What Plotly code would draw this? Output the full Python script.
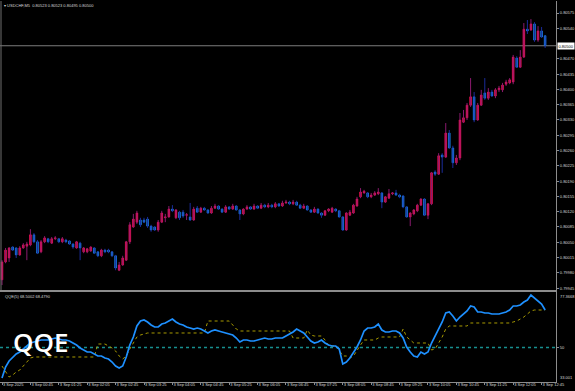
import plotly.graph_objects as go
import pandas as pd

# ---------------- data (USDCHF M5, 3 Sep 2025) ----------------
open_ = [0.79964,0.80005,0.80014,0.80039,0.80037,0.80021,0.80037,0.80041,0.80044,0.80067,
         0.80051,0.80028,0.80051,0.80058,0.80048,0.80058,0.80058,0.80051,0.80055,0.80053,
         0.80046,0.80037,0.80048,0.80028,0.80028,0.80030,0.80037,0.80028,0.80019,0.80032,
         0.80032,0.80028,0.80019,0.79986,0.79998,0.80009,0.80051,0.80085,0.80096,0.80101,
         0.80101,0.80103,0.80087,0.80085,0.80078,0.80096,0.80106,0.80108,0.80126,0.80106,
         0.80119,0.80119,0.80112,0.80108,0.80101,0.80128,0.80119,0.80128,0.80124,0.80117,
         0.80128,0.80133,0.80126,0.80119,0.80131,0.80126,0.80133,0.80124,0.80115,0.80126,
         0.80131,0.80126,0.80133,0.80128,0.80135,0.80131,0.80135,0.80131,0.80138,0.80133,
         0.80140,0.80142,0.80138,0.80142,0.80135,0.80128,0.80133,0.80124,0.80119,0.80126,
         0.80117,0.80112,0.80122,0.80119,0.80126,0.80122,0.80108,0.80078,0.80112,0.80117,
         0.80133,0.80154,0.80163,0.80163,0.80154,0.80158,0.80161,0.80163,0.80142,0.80151,
         0.80161,0.80163,0.80158,0.80156,0.80131,0.80108,0.80115,0.80122,0.80135,0.80149,
         0.80112,0.80138,0.80211,0.80206,0.80250,0.80245,0.80300,0.80266,0.80232,0.80243,
         0.80325,0.80335,0.80364,0.80383,0.80330,0.80364,0.80392,0.80380,0.80394,0.80385,
         0.80399,0.80399,0.80412,0.80415,0.80417,0.80472,0.80451,0.80474,0.80538,0.80536,
         0.80550,0.80513,0.80534,0.80523]
high = [0.80009,0.80037,0.80039,0.80041,0.80039,0.80041,0.80048,0.80051,0.80080,0.80071,
        0.80055,0.80055,0.80064,0.80060,0.80062,0.80064,0.80060,0.80062,0.80058,0.80055,
        0.80048,0.80053,0.80051,0.80039,0.80037,0.80041,0.80039,0.80030,0.80035,0.80035,
        0.80035,0.80030,0.80021,0.80005,0.80019,0.80053,0.80096,0.80115,0.80122,0.80106,
        0.80106,0.80108,0.80090,0.80087,0.80101,0.80122,0.80115,0.80133,0.80135,0.80126,
        0.80122,0.80124,0.80117,0.80140,0.80131,0.80133,0.80131,0.80131,0.80126,0.80133,
        0.80138,0.80135,0.80128,0.80135,0.80133,0.80138,0.80135,0.80126,0.80128,0.80135,
        0.80133,0.80138,0.80135,0.80140,0.80138,0.80140,0.80138,0.80142,0.80140,0.80145,
        0.80147,0.80145,0.80147,0.80145,0.80138,0.80138,0.80135,0.80126,0.80131,0.80128,
        0.80119,0.80124,0.80128,0.80131,0.80128,0.80124,0.80110,0.80119,0.80124,0.80138,
        0.80154,0.80174,0.80170,0.80165,0.80163,0.80167,0.80174,0.80165,0.80156,0.80172,
        0.80165,0.80170,0.80161,0.80158,0.80133,0.80119,0.80126,0.80138,0.80151,0.80151,
        0.80140,0.80211,0.80215,0.80254,0.80254,0.80323,0.80307,0.80271,0.80250,0.80346,
        0.80353,0.80369,0.80426,0.80394,0.80369,0.80399,0.80426,0.80403,0.80399,0.80403,
        0.80408,0.80415,0.80422,0.80426,0.80479,0.80476,0.80490,0.80552,0.80559,0.80561,
        0.80554,0.80545,0.80543,0.80523]
low = [0.79952,0.80002,0.80005,0.80030,0.80014,0.80019,0.80035,0.80009,0.80041,0.80048,
       0.80023,0.80025,0.80048,0.80048,0.80046,0.80055,0.80048,0.80048,0.80048,0.80044,
       0.80035,0.80035,0.80009,0.80025,0.80025,0.80028,0.80023,0.80016,0.80016,0.80025,
       0.80025,0.80016,0.79986,0.79984,0.79996,0.80007,0.80046,0.80083,0.80092,0.80085,
       0.80094,0.80083,0.80074,0.80076,0.80074,0.80094,0.80096,0.80106,0.80119,0.80103,
       0.80101,0.80106,0.80101,0.80099,0.80099,0.80117,0.80117,0.80122,0.80115,0.80115,
       0.80126,0.80124,0.80117,0.80117,0.80124,0.80124,0.80122,0.80101,0.80112,0.80124,
       0.80124,0.80124,0.80126,0.80126,0.80128,0.80128,0.80128,0.80128,0.80131,0.80131,
       0.80138,0.80135,0.80135,0.80133,0.80126,0.80126,0.80122,0.80117,0.80117,0.80115,
       0.80106,0.80110,0.80119,0.80117,0.80119,0.80106,0.80076,0.80076,0.80110,0.80115,
       0.80131,0.80151,0.80161,0.80151,0.80151,0.80156,0.80158,0.80128,0.80140,0.80149,
       0.80158,0.80156,0.80151,0.80128,0.80106,0.80087,0.80112,0.80119,0.80133,0.80110,
       0.80103,0.80135,0.80202,0.80204,0.80209,0.80243,0.80264,0.80220,0.80227,0.80238,
       0.80323,0.80330,0.80360,0.80325,0.80328,0.80362,0.80376,0.80376,0.80383,0.80380,
       0.80394,0.80394,0.80408,0.80412,0.80412,0.80449,0.80449,0.80472,0.80527,0.80534,
       0.80509,0.80509,0.80518,0.80495]
close = [0.80005,0.80032,0.80037,0.80032,0.80021,0.80037,0.80044,0.80046,0.80067,0.80051,
         0.80025,0.80051,0.80060,0.80051,0.80058,0.80060,0.80051,0.80058,0.80051,0.80046,
         0.80039,0.80051,0.80037,0.80037,0.80035,0.80039,0.80025,0.80019,0.80032,0.80028,
         0.80028,0.80019,0.79991,0.79998,0.80014,0.80051,0.80090,0.80103,0.80117,0.80090,
         0.80096,0.80087,0.80078,0.80078,0.80096,0.80117,0.80108,0.80126,0.80122,0.80124,
         0.80106,0.80110,0.80113,0.80101,0.80126,0.80119,0.80128,0.80124,0.80117,0.80128,
         0.80133,0.80126,0.80119,0.80131,0.80126,0.80133,0.80124,0.80115,0.80126,0.80131,
         0.80126,0.80133,0.80128,0.80135,0.80131,0.80135,0.80131,0.80138,0.80133,0.80140,
         0.80142,0.80138,0.80142,0.80135,0.80128,0.80133,0.80124,0.80119,0.80126,0.80117,
         0.80112,0.80122,0.80126,0.80128,0.80122,0.80108,0.80078,0.80117,0.80119,0.80135,
         0.80149,0.80165,0.80167,0.80154,0.80158,0.80163,0.80165,0.80142,0.80154,0.80161,
         0.80163,0.80158,0.80154,0.80131,0.80108,0.80117,0.80124,0.80135,0.80149,0.80112,
         0.80138,0.80209,0.80206,0.80248,0.80245,0.80300,0.80266,0.80232,0.80243,0.80330,
         0.80335,0.80364,0.80383,0.80330,0.80364,0.80387,0.80380,0.80394,0.80385,0.80399,
         0.80403,0.80410,0.80417,0.80422,0.80474,0.80451,0.80474,0.80538,0.80534,0.80550,
         0.80513,0.80534,0.80520,0.80500]

# QQE(5): smoothed RSI (blue) and trailing level (yellow dotted)
qqe_rsi = [35.00,40.39,43.35,45.33,46.80,47.79,49.27,50.75,52.23,52.72,
           53.21,53.71,53.71,53.71,54.20,54.69,54.20,53.71,53.71,53.21,
           52.23,51.24,49.76,48.78,47.79,47.79,46.80,45.82,45.82,44.83,
           44.34,42.86,40.89,39.90,40.89,45.33,51.24,55.19,60.61,63.07,
           63.57,62.58,61.10,60.11,60.11,61.59,62.09,63.07,64.06,62.58,
           61.59,61.10,60.11,59.62,59.13,59.62,59.13,58.14,57.16,58.14,
           58.64,58.14,57.65,57.16,56.66,56.17,54.69,52.72,53.71,53.71,
           53.21,53.21,53.71,54.20,54.69,54.20,54.20,54.69,54.69,54.69,
           55.68,56.66,57.65,59.13,58.14,57.16,55.19,53.21,52.23,52.72,
           53.71,52.23,51.24,50.75,50.75,49.27,41.87,42.86,44.83,47.30,
           50.26,53.71,58.14,59.62,59.62,60.11,61.59,58.64,57.65,57.65,
           58.14,58.14,57.16,54.69,50.26,47.79,45.82,45.33,47.79,46.80,
           47.79,52.23,55.68,59.13,62.58,67.02,67.51,65.54,63.07,65.04,
           66.52,68.00,70.47,69.97,67.51,67.51,67.02,67.02,66.52,66.52,
           66.52,67.02,67.51,68.50,70.47,70.47,70.96,72.44,73.43,75.90,
           74.41,72.93,71.45,68.5002]
qqe_trail = [40.89,37.93,35.47,36.45,37.93,38.91,40.89,42.86,44.83,45.33,
             45.33,45.33,45.33,45.33,45.33,45.33,45.33,45.33,45.33,45.33,
             45.33,45.33,45.33,45.33,45.33,45.33,45.33,51.73,51.73,51.73,
             50.75,49.76,48.28,45.82,44.34,45.82,49.27,52.23,55.19,56.17,
             56.66,57.16,57.16,57.16,57.16,57.16,57.16,57.16,57.16,57.16,
             57.16,57.16,57.16,57.16,57.16,57.16,57.16,57.16,63.07,63.07,
             63.07,63.07,63.07,63.07,63.07,61.10,59.13,58.14,58.14,58.14,
             58.14,58.14,58.14,58.14,58.14,58.14,58.14,58.14,58.14,58.14,
             58.14,58.14,54.69,54.69,54.69,54.69,58.64,56.17,55.68,55.68,
             55.68,53.71,50.75,50.75,50.75,48.78,45.82,45.82,44.83,45.82,
             48.78,51.24,53.71,53.71,53.71,53.71,54.69,55.19,55.19,55.19,
             55.19,55.19,55.19,59.13,55.19,53.71,52.23,52.23,52.23,52.23,
             52.23,48.78,49.27,52.23,55.19,59.13,60.61,60.61,60.61,60.61,
             60.61,60.61,62.09,62.09,62.09,62.09,62.09,62.09,62.09,62.09,
             62.09,62.09,62.09,62.09,62.58,63.07,64.06,65.04,66.52,68.00,
             68.50,68.50,68.50,68.4790]
qqe_level = 50
qqe_min, qqe_max = 33.001, 77.3668

times = pd.date_range("2025-09-03 00:05", periods=len(close), freq="5min")

tick_times = ["2025-09-03 00:05", "2025-09-03 00:45", "2025-09-03 01:25", "2025-09-03 02:05",
              "2025-09-03 02:45", "2025-09-03 03:25", "2025-09-03 04:05", "2025-09-03 04:45",
              "2025-09-03 05:25", "2025-09-03 06:05", "2025-09-03 06:45", "2025-09-03 07:25",
              "2025-09-03 08:05", "2025-09-03 08:45", "2025-09-03 09:25", "2025-09-03 10:05",
              "2025-09-03 10:45", "2025-09-03 11:25", "2025-09-03 12:05", "2025-09-03 12:45"]
time_labels = ["3 Sep 2025", "3 Sep 00:45", "3 Sep 01:25", "3 Sep 02:05", "3 Sep 02:45",
               "3 Sep 03:25", "3 Sep 04:05", "3 Sep 04:45", "3 Sep 05:25", "3 Sep 06:05",
               "3 Sep 06:45", "3 Sep 07:25", "3 Sep 08:05", "3 Sep 08:45", "3 Sep 09:25",
               "3 Sep 10:05", "3 Sep 10:45", "3 Sep 11:25", "3 Sep 12:05", "3 Sep 12:45"]
# (0.80505 sits under the current-price box)
price_ticks = [0.79945, 0.79980, 0.80015, 0.80050, 0.80085, 0.80120, 0.80155, 0.80190,
               0.80225, 0.80260, 0.80295, 0.80330, 0.80365, 0.80400, 0.80435, 0.80470,
               0.80540, 0.80575]

# ---------------- styles ----------------
UP, DN = "#ff1258", "#1e8fff"
UP_WICK, DN_WICK = "#8a1a6e", "#1a2c9a"
AXIS = "#8c8c8c"
TXT = "#d8d8d8"
SMALL = dict(family="Liberation Sans, Arial, sans-serif", size=4, color=TXT)

body_hi = [max(o, c) for o, c in zip(open_, close)]
body_lo = [min(o, c) for o, c in zip(open_, close)]

fig = go.Figure()
# wicks
fig.add_trace(go.Ohlc(x=times, open=open_, high=high, low=low, close=close,
                      increasing=dict(line=dict(color=UP_WICK, width=1)),
                      decreasing=dict(line=dict(color=DN_WICK, width=1)),
                      tickwidth=0, xaxis="x", yaxis="y", hoverinfo="skip"))
# bodies
fig.add_trace(go.Candlestick(x=times, open=open_, high=body_hi, low=body_lo, close=close,
                             increasing=dict(line=dict(color=UP, width=0.6), fillcolor=UP),
                             decreasing=dict(line=dict(color=DN, width=0.6), fillcolor=DN),
                             whiskerwidth=0, xaxis="x", yaxis="y"))
# QQE
fig.add_trace(go.Scatter(x=times, y=qqe_trail, mode="lines", xaxis="x2", yaxis="y2",
                         line=dict(color="#a89a00", width=1, dash="dot")))
fig.add_trace(go.Scatter(x=times, y=qqe_rsi, mode="lines", xaxis="x2", yaxis="y2",
                         line=dict(color="#1e90ff", width=1.7)))

x_range = ["2025-09-03 00:02:11", "2025-09-03 13:05:18"]
main_dom = [0.2415, 1.0]
ind_dom = [0.0, 0.2362]

fig.update_layout(
    width=575, height=391, margin=dict(l=0, r=19, t=1, b=9, autoexpand=False),
    paper_bgcolor="black", plot_bgcolor="black", showlegend=False,
    xaxis=dict(domain=[0, 1], anchor="y", range=x_range, showticklabels=False,
               showgrid=False, zeroline=False, rangeslider=dict(visible=False),
               showline=True, linecolor=AXIS, linewidth=1, ticks="", automargin=False),
    yaxis=dict(domain=main_dom, side="right", range=[0.799407, 0.806025],
               tickvals=price_ticks, tickformat=".5f", ticks="outside", ticklen=2,
               tickcolor=AXIS, showgrid=False, zeroline=False, showline=True,
               linecolor=AXIS, linewidth=1, tickfont=SMALL, automargin=False),
    xaxis2=dict(domain=[0, 1], anchor="y2", range=x_range, tickvals=tick_times,
                ticktext=time_labels, ticklabelposition="outside right", ticks="outside",
                ticklen=2, tickcolor=AXIS, showgrid=False, zeroline=False, tickangle=0,
                ticklabelstandoff=-2,
                showline=True, mirror=True, linecolor=AXIS, linewidth=1, tickfont=SMALL,
                automargin=False),
    yaxis2=dict(domain=ind_dom, side="right", range=[qqe_min, qqe_max], tickvals=[qqe_level],
                ticktext=[str(qqe_level)], ticks="outside", ticklen=2, tickcolor=AXIS,
                showgrid=False, zeroline=False, showline=True, linecolor=AXIS,
                linewidth=1, tickfont=SMALL, automargin=False),
)

shapes = [
    # current price line
    dict(type="line", xref="paper", x0=0, x1=1, yref="y", y0=close[-1], y1=close[-1],
         line=dict(color="#7c7c7c", width=1), layer="below"),
    # QQE level 50
    dict(type="line", xref="paper", x0=0, x1=1, yref="y2", y0=qqe_level, y1=qqe_level,
         line=dict(color="#178f8f", width=1.6, dash="dot"), layer="below"),
    # left border of main pane
    dict(type="line", xref="paper", x0=0.0018, x1=0.0018, yref="paper", y0=main_dom[0], y1=1,
         line=dict(color="#6e6e6e", width=1)),
]
fig.update_layout(shapes=shapes)

ann = [
    dict(x=1, xref="paper", xanchor="left", xshift=1, y=close[-1], yref="y",
         text=f"{close[-1]:.5f}", bgcolor="white", borderpad=0.5, showarrow=False,
         font=dict(family="Liberation Sans, Arial, sans-serif", size=4, color="black")),
    dict(x=1, xref="paper", xanchor="left", xshift=2, y=ind_dom[1], yref="paper",
         yanchor="top", text=f"{qqe_max}", showarrow=False, font=SMALL),
    dict(x=1, xref="paper", xanchor="left", xshift=2, y=0, yref="paper",
         yanchor="bottom", text=f"{qqe_min}", showarrow=False, font=SMALL),
    dict(x=0.004, xref="paper", xanchor="left", y=0.9895, yref="paper", yanchor="middle",
         text="▾ USDCHF,M5  0.80523 0.80523 0.80495 0.80500", showarrow=False,
         font=SMALL),
    dict(x=0.005, xref="paper", xanchor="left", y=0.2257, yref="paper", yanchor="middle",
         text=f"QQE(5) {qqe_rsi[-1]:.4f} {qqe_trail[-1]:.4f}", showarrow=False, font=SMALL),
    dict(x=40 / 556, xref="paper", xanchor="center", y=0.105, yref="paper", yanchor="middle",
         text="QQE", showarrow=False,
         font=dict(family="Open Sans, sans-serif", size=26, color="white", weight=600)),
]
fig.update_layout(annotations=ann)

fig.write_html("out.html")
